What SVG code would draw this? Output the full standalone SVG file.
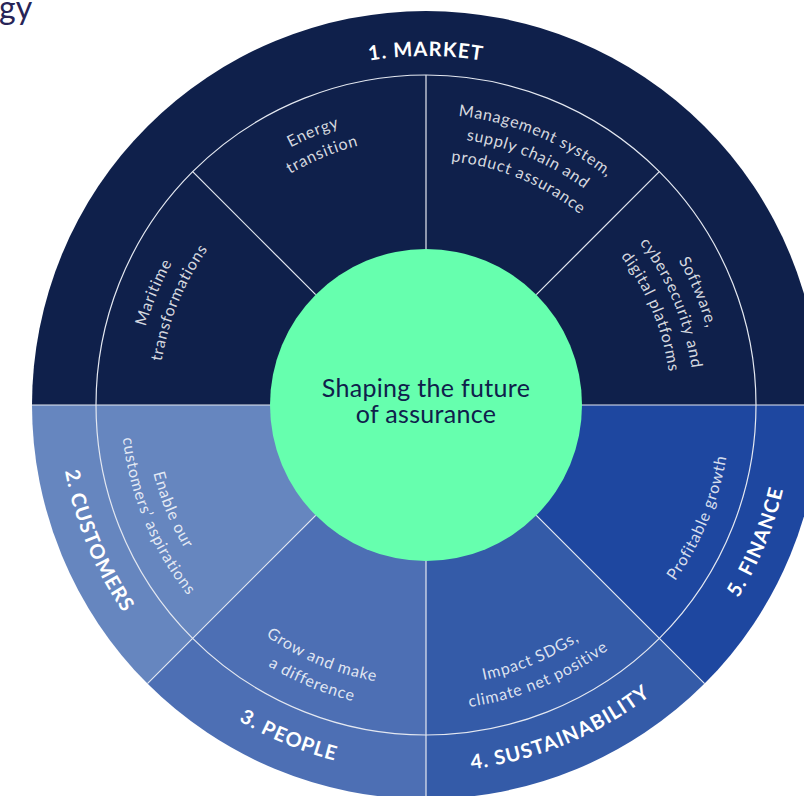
<svg xmlns="http://www.w3.org/2000/svg" xmlns:xlink="http://www.w3.org/1999/xlink" width="804" height="796" viewBox="0 0 804 796">
  <style>
    .outer { font-family: Lato, "Noto Sans", sans-serif; font-weight: 700; font-size: 20px; fill: #FFFFFF; letter-spacing: 1.1px; text-anchor: middle; }
    .inner { font-family: Lato, "Noto Sans", sans-serif; font-weight: 400; font-size: 16px; fill: #FFFFFF; fill-opacity: 0.84; letter-spacing: 0.8px; text-anchor: middle; }
    .center { font-family: Lato, "Noto Sans", sans-serif; font-weight: 400; font-size: 25px; fill: #0F204B; letter-spacing: 0.3px; text-anchor: middle; }
    .div { stroke: #E4E8F1; stroke-width: 1.2; fill: none; }
  </style>
  <defs>
    <path id="arcMkt" d="M 77 405 A 349 349 0 0 1 775 405"/>
    <path id="arcOut" d="M 59 405 A 367 367 0 0 0 793 405"/>
    <path id="arcT290" d="M 135 405 A 291 291 0 0 1 717 405"/>
    <path id="arcT268" d="M 158 405 A 268 268 0 0 1 694 405"/>
    <path id="arcT246" d="M 181 405 A 245 245 0 0 1 671 405"/>
    <path id="arcB282" d="M 145 405 A 281 281 0 0 0 707 405"/>
    <path id="arcB304" d="M 121 405 A 305 305 0 0 0 731 405"/>
  </defs>

  <rect width="804" height="796" fill="#FFFFFF"/>
  <text x="-1" y="19" font-family="Lato, 'Noto Sans', sans-serif" font-size="32" fill="#272457">gy</text>

  <g id="market">
    <path d="M 32 405 A 394 394 0 0 1 820 405 Z" fill="#0F204B"/>
    <text class="outer"><textPath xlink:href="#arcMkt" href="#arcMkt" startOffset="50%">1. MARKET</textPath></text>
    <text class="inner"><textPath href="#arcT290" xlink:href="#arcT290" startOffset="12.5%">Maritime</textPath></text>
    <text class="inner"><textPath href="#arcT268" xlink:href="#arcT268" startOffset="12.5%">transformations</textPath></text>
    <text class="inner"><textPath href="#arcT290" xlink:href="#arcT290" startOffset="37.5%">Energy</textPath></text>
    <text class="inner"><textPath href="#arcT268" xlink:href="#arcT268" startOffset="37.5%">transition</textPath></text>
    <text class="inner"><textPath href="#arcT290" xlink:href="#arcT290" startOffset="62.5%">Management system,</textPath></text>
    <text class="inner"><textPath href="#arcT268" xlink:href="#arcT268" startOffset="62.5%">supply chain and</textPath></text>
    <text class="inner"><textPath href="#arcT246" xlink:href="#arcT246" startOffset="62.5%">product assurance</textPath></text>
    <text class="inner"><textPath href="#arcT290" xlink:href="#arcT290" startOffset="87.5%">Software,</textPath></text>
    <text class="inner"><textPath href="#arcT268" xlink:href="#arcT268" startOffset="87.5%">cybersecurity and</textPath></text>
    <text class="inner"><textPath href="#arcT246" xlink:href="#arcT246" startOffset="87.5%">digital platforms</textPath></text>
  </g>

  <g id="customers">
    <path d="M 426 405 L 32 405 A 394 394 0 0 0 147.4 683.6 Z" fill="#6686BF"/>
    <text class="outer"><textPath href="#arcOut" xlink:href="#arcOut" startOffset="12.5%">2. CUSTOMERS</textPath></text>
    <text class="inner"><textPath href="#arcB282" xlink:href="#arcB282" startOffset="12.5%">Enable our</textPath></text>
    <text class="inner"><textPath href="#arcB304" xlink:href="#arcB304" startOffset="12.5%">customers’ aspirations</textPath></text>
  </g>

  <g id="people">
    <path d="M 426 405 L 147.4 683.6 A 394 394 0 0 0 426 799 Z" fill="#4D6FB4"/>
    <text class="outer"><textPath href="#arcOut" xlink:href="#arcOut" startOffset="37.5%">3. PEOPLE</textPath></text>
    <text class="inner"><textPath href="#arcB282" xlink:href="#arcB282" startOffset="37.5%">Grow and make</textPath></text>
    <text class="inner"><textPath href="#arcB304" xlink:href="#arcB304" startOffset="37.5%">a difference</textPath></text>
  </g>

  <g id="sustainability">
    <path d="M 426 405 L 426 799 A 394 394 0 0 0 704.6 683.6 Z" fill="#345BA8"/>
    <text class="outer"><textPath href="#arcOut" xlink:href="#arcOut" startOffset="62.5%">4. SUSTAINABILITY</textPath></text>
    <text class="inner"><textPath href="#arcB282" xlink:href="#arcB282" startOffset="62.5%">Impact SDGs,</textPath></text>
    <text class="inner"><textPath href="#arcB304" xlink:href="#arcB304" startOffset="62.5%">climate net positive</textPath></text>
  </g>

  <g id="finance">
    <path d="M 426 405 L 704.6 683.6 A 394 394 0 0 0 820 405 Z" fill="#1E47A0"/>
    <text class="outer"><textPath href="#arcOut" xlink:href="#arcOut" startOffset="87.5%">5. FINANCE</textPath></text>
    <text class="inner"><textPath href="#arcB304" xlink:href="#arcB304" startOffset="87.5%">Profitable growth</textPath></text>
  </g>

  <g id="dividers">
    <circle class="div" cx="426" cy="405" r="330"/>
    <line class="div" x1="32" y1="405" x2="820" y2="405"/>
    <line class="div" x1="315.7" y1="294.7" x2="192.7" y2="171.7"/>
    <line class="div" x1="426" y1="249" x2="426" y2="75"/>
    <line class="div" x1="536.3" y1="294.7" x2="659.3" y2="171.7"/>
    <line class="div" x1="315.7" y1="515.3" x2="147.4" y2="683.6"/>
    <line class="div" x1="426" y1="561" x2="426" y2="799"/>
    <line class="div" x1="536.3" y1="515.3" x2="704.6" y2="683.6"/>
  </g>

  <g id="core">
    <circle cx="426" cy="405" r="156" fill="#66FFAE"/>
    <text class="center" x="426" y="397">Shaping the future</text>
    <text class="center" x="426" y="423">of assurance</text>
  </g>
</svg>
